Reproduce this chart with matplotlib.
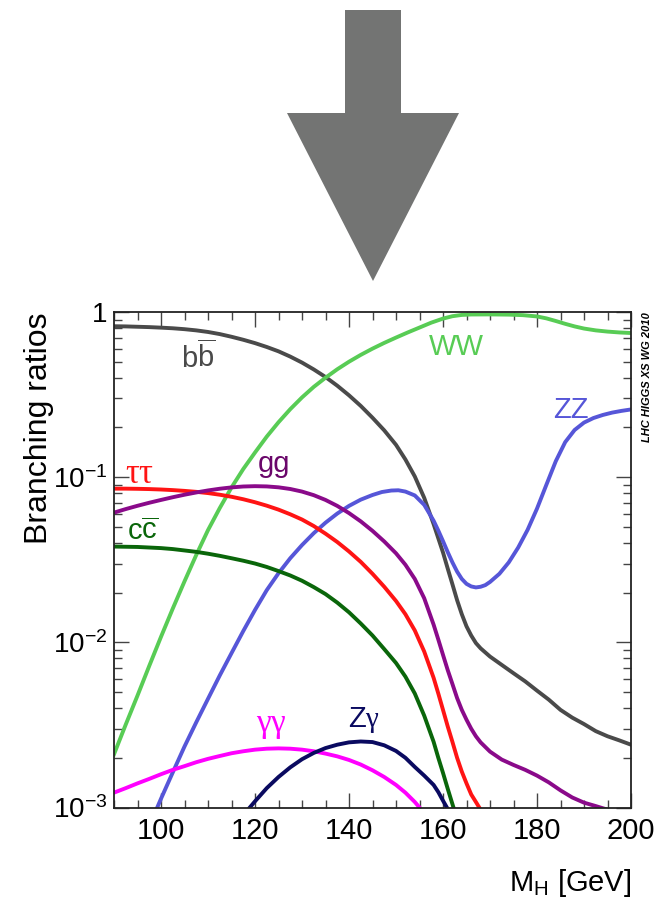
import matplotlib
matplotlib.use('Agg')
import matplotlib.pyplot as plt
from matplotlib.patches import Polygon
from matplotlib.ticker import MultipleLocator, FixedLocator, FixedFormatter, LogLocator, NullFormatter

plt.rcParams['font.family'] = ['Liberation Sans', 'DejaVu Sans']
plt.rcParams['mathtext.fontset'] = 'custom'
plt.rcParams['mathtext.rm'] = 'Liberation Sans'
plt.rcParams['mathtext.it'] = 'Liberation Serif'

# Higgs branching ratios vs mass
bb_x = [90, 92.5, 95, 97.5, 100, 102.5, 105, 107.5, 110, 112.5, 115, 117.5, 120, 122.5, 125, 127.5, 130, 132.5, 135, 137.5,
        140, 142.5, 145, 147.5, 150, 152, 154, 156, 158, 160, 161, 162, 163, 164, 165, 166, 167, 168, 170, 172.5,
        175, 177.5, 180, 182.5, 185, 187.5, 190, 192.5, 195, 197.5, 200]
bb_y = [0.82, 0.818, 0.814, 0.81, 0.804, 0.797, 0.787, 0.774, 0.757, 0.735, 0.708, 0.679, 0.648, 0.614, 0.578, 0.537, 0.494, 0.449, 0.404, 0.358,
        0.313, 0.27, 0.229, 0.192, 0.157, 0.128, 0.101, 0.075, 0.052, 0.035, 0.028, 0.0225, 0.018, 0.0148, 0.0125, 0.011, 0.0099, 0.0092, 0.0082, 0.0073,
        0.0065, 0.0058, 0.0051, 0.0045, 0.0039, 0.0035, 0.0032, 0.0029, 0.0027, 0.00255, 0.0024]

ww_x = [90, 92.5, 95, 97.5, 100, 102.5, 105, 107.5, 110, 112.5, 115, 117.5, 120, 122.5, 125, 127.5, 130, 132.5, 135, 137.5,
        140, 142.5, 145, 147.5, 150, 152.5, 155, 157.5, 160, 162, 164, 166, 170, 174, 177, 180, 182, 184, 186, 188,
        190, 192.5, 195, 197.5, 200]
ww_y = [0.0021, 0.00318, 0.00476, 0.0072, 0.0108, 0.016, 0.0234, 0.0338, 0.0478, 0.065, 0.0866, 0.112, 0.141, 0.176, 0.215, 0.258, 0.304, 0.352, 0.40, 0.45,
        0.50, 0.55, 0.60, 0.65, 0.70, 0.752, 0.805, 0.862, 0.912, 0.943, 0.96, 0.966, 0.967, 0.964, 0.957, 0.94, 0.915, 0.882, 0.848, 0.818,
        0.794, 0.774, 0.761, 0.752, 0.746]

zz_x = [99, 100, 102.5, 105, 107.5, 110, 112.5, 115, 117.5, 120, 122.5, 125, 127.5, 130, 132.5, 135, 137.5, 140, 142.5, 145,
        147, 149, 150.5, 152, 154, 156, 158, 159, 160, 161, 162, 163, 164, 165, 166, 167, 168, 169, 170, 172,
        174, 176, 178, 180, 182, 184, 186, 188, 190, 192, 194, 196, 198, 200]
zz_y = [0.00097, 0.00113, 0.00163, 0.00234, 0.00328, 0.00455, 0.0063, 0.0086, 0.0117, 0.0157, 0.0207, 0.0262, 0.0323, 0.0388, 0.0458, 0.053, 0.0602, 0.067, 0.0731, 0.078,
        0.0813, 0.083, 0.0833, 0.0818, 0.0775, 0.068, 0.0545, 0.0475, 0.041, 0.0352, 0.0305, 0.0268, 0.0242, 0.0226, 0.0218, 0.0215, 0.0217, 0.0222, 0.0232, 0.026,
        0.0305, 0.0375, 0.048, 0.0645, 0.09, 0.125, 0.163, 0.193, 0.214, 0.228, 0.238, 0.246, 0.252, 0.257]

tautau_x = [90, 92.5, 95, 97.5, 100, 102.5, 105, 107.5, 110, 112.5, 115, 117.5, 120, 122.5, 125, 127.5, 130, 132.5, 135, 137.5,
            140, 142.5, 145, 147.5, 150, 152, 154, 156, 158, 159, 160, 161, 162, 163, 164, 165, 166, 167, 168, 169]
tautau_y = [0.0852, 0.0852, 0.085, 0.0847, 0.0842, 0.0835, 0.0826, 0.0815, 0.0801, 0.0783, 0.0761, 0.0735, 0.0705, 0.0672, 0.0636, 0.0596, 0.0554, 0.0506, 0.0455, 0.0405,
            0.0355, 0.0307, 0.026, 0.0217, 0.0178, 0.0148, 0.0118, 0.0088, 0.0061, 0.0049, 0.0039, 0.0031, 0.0025, 0.002, 0.00165, 0.0014, 0.0012, 0.00108, 0.00097, 0.00088]

gg_x = [90, 92.5, 95, 97.5, 100, 102.5, 105, 107.5, 110, 112.5, 115, 117.5, 120, 122.5, 125, 127.5, 130, 132.5, 135, 137.5,
        140, 142.5, 145, 147.5, 150, 152, 154, 156, 158, 159, 160, 161, 162, 163, 164, 165, 166, 167, 168, 170,
        172.5, 175, 177.5, 180, 182.5, 185, 187.5, 190, 192.5, 195]
gg_y = [0.061, 0.0641, 0.0671, 0.07, 0.0728, 0.0756, 0.0783, 0.0808, 0.0831, 0.0851, 0.0867, 0.0878, 0.0882, 0.0879, 0.0868, 0.0848, 0.0818, 0.0778, 0.0728, 0.067,
        0.0606, 0.054, 0.0473, 0.0408, 0.0346, 0.0295, 0.0242, 0.0185, 0.0128, 0.0104, 0.0084, 0.0068, 0.0056, 0.0046, 0.0039, 0.0034, 0.003, 0.0027, 0.00248, 0.00218,
        0.00195, 0.00181, 0.00169, 0.00156, 0.00142, 0.00127, 0.00115, 0.00107, 0.00102, 0.00097]

cc_x = [90, 95, 100, 102.5, 105, 107.5, 110, 112.5, 115, 117.5, 120, 122.5, 125, 127.5, 130, 132.5, 135, 137.5, 140, 142.5,
        145, 147.5, 150, 152, 154, 156, 157, 158, 159, 160, 161, 162, 163]
cc_y = [0.038, 0.0378, 0.0372, 0.0367, 0.036, 0.0353, 0.0344, 0.0334, 0.0323, 0.0312, 0.03, 0.0286, 0.027, 0.0254, 0.0236, 0.0216, 0.0196, 0.0174, 0.0152, 0.013,
        0.011, 0.0091, 0.0075, 0.0062, 0.0049, 0.0036, 0.003, 0.0025, 0.002, 0.00162, 0.0013, 0.00105, 0.00085]

aa_x = [90, 92.5, 95, 97.5, 100, 102.5, 105, 107.5, 110, 112.5, 115, 117.5, 120, 122.5, 125, 127.5, 130, 132.5, 135, 137.5,
        140, 142.5, 145, 147.5, 150, 152, 154, 155, 156]
aa_y = [0.00123, 0.00131, 0.0014, 0.00149, 0.00159, 0.00169, 0.00178, 0.00188, 0.00197, 0.00205, 0.00213, 0.00219, 0.00224, 0.00227, 0.00228, 0.00227, 0.00224, 0.00219, 0.00212, 0.00204,
        0.00194, 0.00182, 0.00168, 0.00153, 0.00137, 0.00123, 0.00108, 0.001, 0.00092]

za_x = [118.5, 120, 122.5, 125, 127.5, 130, 132.5, 135, 137.5, 140, 142.5, 145, 147.5, 150, 152, 154, 156, 158, 159, 160, 161, 162]
za_y = [0.00097, 0.00109, 0.00131, 0.00153, 0.00175, 0.00196, 0.00214, 0.00229, 0.0024, 0.00248, 0.00251, 0.00249, 0.00238, 0.0022, 0.002, 0.00176, 0.00156, 0.00137, 0.00124, 0.0011, 0.00098, 0.00088]

ytick_vals = [1e-3, 1e-2, 1e-1, 1]
ytick_labels = [r'$\mathregular{10^{-3}}$', r'$\mathregular{10^{-2}}$', r'$\mathregular{10^{-1}}$', '1']
xtick_vals = [100, 120, 140, 160, 180, 200]

fig = plt.figure(figsize=(6.7, 9.02), dpi=100)

# big gray arrow on top
W, H = 670.0, 902.0
arrow_px = [(345, 10), (401, 10), (401, 113), (459, 113), (373, 281), (287, 113), (345, 113)]
fig.patches.append(Polygon([(x / W, 1 - y / H) for x, y in arrow_px], closed=True,
                           transform=fig.transFigure, facecolor='#737473', edgecolor='none'))

ax = fig.add_axes([114 / W, 1 - 807.5 / H, 517 / W, 495.5 / H])

lw = 2.8
ax.plot(bb_x, bb_y, color='#4a4a4a', lw=lw)
ax.plot(ww_x, ww_y, color='#58cc55', lw=lw)
ax.plot(zz_x, zz_y, color='#5656d8', lw=lw)
ax.plot(tautau_x, tautau_y, color='#ff1414', lw=lw)
ax.plot(gg_x, gg_y, color='#8a0a8a', lw=lw)
ax.plot(cc_x, cc_y, color='#0a660a', lw=lw)
ax.plot(aa_x, aa_y, color='#ff00ff', lw=lw)
ax.plot(za_x, za_y, color='#0a0a60', lw=lw)

ax.set_yscale('log')
ax.set_xlim(90, 200)
ax.set_ylim(1e-3, 1)

ax.xaxis.set_major_locator(FixedLocator(xtick_vals))
ax.xaxis.set_minor_locator(MultipleLocator(5))
ax.yaxis.set_major_locator(FixedLocator(ytick_vals))
ax.yaxis.set_major_formatter(FixedFormatter(ytick_labels))
ax.yaxis.set_minor_locator(LogLocator(base=10, subs=range(2, 10)))
ax.yaxis.set_minor_formatter(NullFormatter())

ax.tick_params(which='both', direction='in', top=True, right=True, color='#444444', width=1.0)
ax.tick_params(which='major', length=10.5)
ax.tick_params(which='minor', length=5.5)
ax.tick_params(axis='x', which='major', labelsize=21, pad=7)
ax.tick_params(axis='y', which='major', labelsize=20, pad=5)
for s in ax.spines.values():
    s.set_linewidth(1.3)
    s.set_color('#222222')

ax.text(-0.145, 1.0, 'Branching ratios', transform=ax.transAxes, rotation=90,
        fontsize=23, ha='center', va='top')
ax.set_xlabel(r'M$_{\mathregular{H}}$ [GeV]', fontsize=21, loc='right', labelpad=16)

fs = 21
ax.text(108, 0.457, r'b$\mathregular{\overline{b}}$', color='#4a4a4a', fontsize=fs, ha='center', va='baseline')
ax.text(162.8, 0.55, 'WW', color='#58cc55', fontsize=fs, ha='center', va='baseline')
ax.text(187.2, 0.227, 'ZZ', color='#5656d8', fontsize=fs, ha='center', va='baseline')
ax.text(95.5, 0.0916, r'$\tau\tau$', color='#ff1414', fontsize=25, ha='center', va='baseline')
ax.text(124, 0.1077, 'gg', color='#6a066a', fontsize=fs, ha='center', va='baseline')
ax.text(96, 0.0415, r'c$\mathregular{\overline{c}}$', color='#0a660a', fontsize=fs, ha='center', va='baseline')
ax.text(123.5, 0.00286, r'$\gamma\gamma$', color='#ff00ff', fontsize=24, ha='center', va='baseline')
ax.text(143.2, 0.00307, r'Z$\gamma$', color='#0a0a60', fontsize=fs, ha='center', va='baseline')

fig.text(647 / W, 1 - 312 / H, 'LHC HIGGS XS WG 2010', rotation=90, ha='center', va='top',
         fontsize=8, fontweight='bold', fontstyle='italic')

fig.savefig('out.png', dpi=100)
